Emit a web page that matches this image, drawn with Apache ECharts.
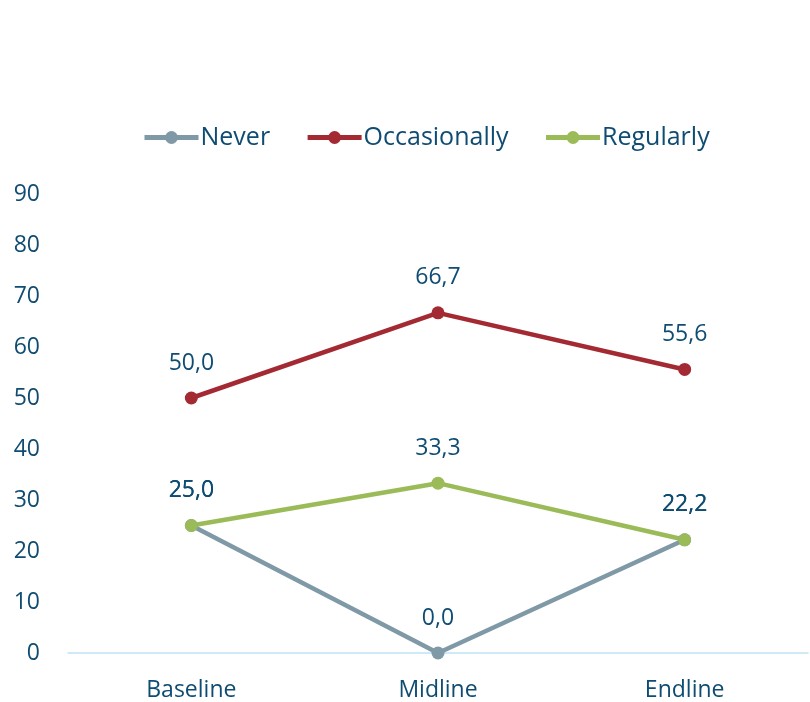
<!DOCTYPE html>
<html>
<head>
<meta charset="utf-8">
<script src="https://cdn.jsdelivr.net/npm/echarts@6/dist/echarts.min.js"></script>
<style>
  html, body { margin: 0; padding: 0; background: #fff; }
  #chart { width: 810px; height: 702px; }
</style>
</head>
<body>
<div id="chart"></div>
<script>
const categories = ["Baseline", "Midline", "Endline"];
const never = [25.0, 0.0, 22.2];
const occasionally = [50.0, 66.7, 55.6];
const regularly = [25.0, 33.3, 22.2];
const yTicks = [0, 10, 20, 30, 40, 50, 60, 70, 80, 90];

const textColor = "#0f4c72";
const font = "Open Sans";

function makeSeries(name, data, color) {
  return {
    name: name,
    type: "line",
    data: data,
    symbol: "circle",
    symbolSize: 13,
    lineStyle: { width: 4.5, color: color },
    itemStyle: { color: color },
    label: {
      show: true,
      position: "top",
      distance: 17,
      color: textColor,
      fontFamily: font,
      fontSize: 23,
      formatter: (p) => p.value.toFixed(1).replace(".", ","),
    },
  };
}

let myChart = echarts.init(document.getElementById("chart"));
myChart.setOption({
  animation: false,
  legend: {
    top: 120,
    left: 137,
    itemWidth: 54,
    itemHeight: 16,
    itemGap: 35,
    lineStyle: { width: 5 },
    textStyle: { color: textColor, fontFamily: font, fontSize: 25, padding: [0, 0, 0, -3] },
    data: ["Never", "Occasionally", "Regularly"],
  },
  grid: {
    left: 68,
    right: 2,
    top: 194,
    bottom: 49,
  },
  xAxis: {
    type: "category",
    data: categories,
    boundaryGap: true,
    axisLine: { lineStyle: { color: "#bfe4f5", width: 1.5 } },
    axisTick: { show: false },
    axisLabel: { color: textColor, fontFamily: font, fontSize: 23, margin: 26 },
  },
  yAxis: {
    type: "value",
    min: yTicks[0],
    max: yTicks[yTicks.length - 1],
    interval: 10,
    splitLine: { show: false },
    axisLine: { show: false },
    axisTick: { show: false },
    axisLabel: { color: textColor, fontFamily: font, fontSize: 23, margin: 28 },
  },
  series: [
    makeSeries("Never", never, "#7f9aa6"),
    makeSeries("Occasionally", occasionally, "#a32a33"),
    makeSeries("Regularly", regularly, "#9bbb59"),
  ],
});
</script>
</body>
</html>
